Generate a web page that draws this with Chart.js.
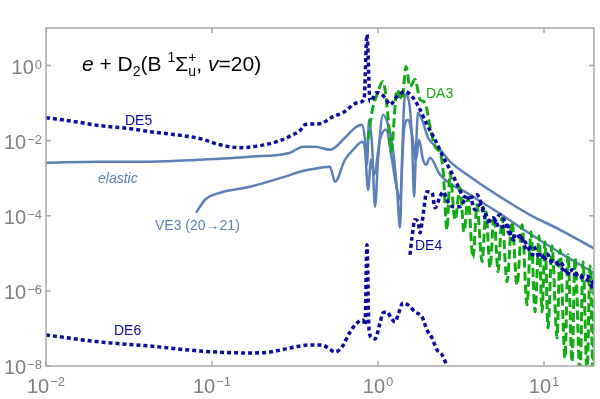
<!DOCTYPE html>
<html>
<head>
<meta charset="utf-8">
<script src="https://cdn.jsdelivr.net/npm/chart.js@4.4.1/dist/chart.umd.min.js"></script>
<style>
  body { margin: 0; background: #fff; }
  #wrap { width: 600px; height: 399px; position: relative; }
</style>
</head>
<body>
<div id="wrap"><canvas id="xsChart"></canvas></div>
<script>
// energies (eV) and cross sections
const elasticE = [0.01, 0.0211, 0.0423, 0.0847, 0.1694, 0.2951, 0.3533, 0.4174, 0.5139, 0.6326, 0.7266, 0.801, 0.835, 0.8585, 0.8827, 0.9203, 0.9592, 1.0, 1.072, 1.149, 1.231, 1.302, 1.357, 1.395, 1.455, 1.537, 1.603, 1.648, 1.694, 1.742, 1.841, 2.001, 2.205, 2.363, 2.715, 3.583, 5.43, 8.235, 12.49, 20.0];
const elasticSigma = [0.00259, 0.00275, 0.00275, 0.00311, 0.00374, 0.00479, 0.00692, 0.00692, 0.00575, 0.012, 0.0222, 0.0267, 0.01063, 0.00229, 0.0363, 0.00782, 0.000174, 0.00311, 0.0493, 0.0267, 0.00575, 0.000494, 4.79e-5, 0.00311, 0.1686, 0.1096, 0.01063, 0.000321, 0.00575, 0.0558, 0.0363, 0.012, 0.00736, 0.00575, 0.00275, 0.0011, 0.000321, 0.000106, 4.23e-5, 1.35e-5];

const ve3E = [0.0801, 0.0908, 0.1117, 0.1694, 0.2754, 0.339, 0.4174, 0.5139, 0.5508, 0.6326, 0.7266, 0.801, 0.835, 0.8706, 0.9074, 0.9461, 1.028, 1.117, 1.214, 1.284, 1.357, 1.434, 1.516, 1.603, 1.694, 1.766, 1.867, 1.946, 2.058, 2.363, 3.583, 5.43, 8.235, 12.49, 20.0];
const ve3Sigma = [0.00012, 0.000267, 0.000411, 0.000593, 0.0011, 0.00149, 0.00179, 0.00203, 0.000807, 0.00311, 0.0065, 0.0094, 0.00575, 0.000494, 0.00311, 0.00124, 0.01063, 0.0197, 0.00311, 0.000671, 0.000267, 0.0197, 0.0363, 0.01445, 0.00311, 0.01063, 0.00311, 0.00229, 0.00352, 0.00124, 0.000363, 0.000113, 3.31e-5, 1.03e-5, 3.02e-6];

const de5E = [0.01, 0.01495, 0.0211, 0.03206, 0.0423, 0.0598, 0.0847, 0.1117, 0.1475, 0.1946, 0.2568, 0.3076, 0.339, 0.3633, 0.4473, 0.5356, 0.6153, 0.7576, 0.8235, 0.858, 0.895, 0.9863, 1.102, 1.181, 1.302, 1.455, 1.625, 1.791, 1.973, 2.205, 2.464, 2.715, 2.991, 3.251, 3.583, 3.949, 4.232, 4.536, 4.929, 5.43, 5.821, 6.241, 7.169, 7.684, 8.585, 9.461, 10.43, 11.65, 12.49, 13.76, 15.81, 18.16, 20.0];
const de5Sigma = [0.041, 0.0321, 0.0251, 0.0209, 0.0174, 0.01445, 0.01131, 0.00782, 0.0065, 0.00736, 0.01, 0.01445, 0.0185, 0.0267, 0.0284, 0.0437, 0.0558, 0.1031, 0.124, 6.71, 0.1096, 0.1905, 0.14, 0.0912, 0.149, 0.2027, 0.14, 0.0671, 0.0267, 0.01063, 0.00374, 0.00169, 0.000713, 0.000341, 0.000302, 0.000363, 0.000185, 9.4e-5, 6.5e-5, 0.000106, 6.92e-5, 3.11e-5, 2.75e-5, 2.03e-5, 9.12e-6, 9.12e-6, 6.71e-6, 5.93e-6, 4.37e-6, 3.02e-6, 2.67e-6, 1.97e-6, 1.06e-6];

const de4E = [1.559, 1.603, 1.671, 1.742, 1.791, 1.841, 1.973, 2.115, 2.205, 2.363, 2.464, 2.641, 2.83, 3.119, 3.343, 3.583, 3.84, 4.116, 4.536, 4.929, 5.43, 5.985, 6.507, 7.169, 7.9, 8.585, 9.461, 10.43, 11.33, 12.49, 13.76, 14.95, 16.48, 18.16, 20.0];
const de4Sigma = [9.12e-6, 2.75e-5, 7.82e-5, 6.92e-5, 3.52e-5, 6.5e-5, 4.37e-4, 4.11e-4, 1.63e-4, 3.21e-4, 4.37e-4, 2.36e-4, 1.74e-4, 1.74e-4, 2.67e-4, 3.02e-4, 1.445e-4, 1.97e-4, 6.92e-5, 8.85e-5, 4.79e-5, 5.75e-5, 2.29e-5, 2.93e-5, 1.24e-5, 1.585e-5, 7.59e-6, 9.7e-6, 5.25e-6, 5.93e-6, 3.21e-6, 3.63e-6, 2.22e-6, 2.51e-6, 1.445e-6];

const de6E = [0.01, 0.0211, 0.0423, 0.0847, 0.1694, 0.2236, 0.2951, 0.3895, 0.46, 0.4997, 0.5508, 0.6067, 0.6781, 0.7472, 0.8121, 0.835, 0.858, 0.8827, 0.9203, 0.9592, 1.028, 1.072, 1.133, 1.198, 1.266, 1.32, 1.414, 1.516, 1.671, 1.841, 1.973, 2.115, 2.267, 2.43, 2.605];
const de6Sigma = [6.71e-8, 4.37e-8, 3.41e-8, 2.51e-8, 2.22e-8, 2.36e-8, 3.02e-8, 3.63e-8, 3.63e-8, 3.02e-8, 2.36e-8, 3.21e-8, 8.07e-8, 1.4e-7, 1.69e-7, 1.24e-7, 1.69e-5, 9.12e-8, 5.58e-8, 5.25e-8, 1.4e-7, 2.59e-7, 2.75e-7, 1.905e-7, 1.49e-7, 2.29e-7, 4.79e-7, 4.23e-7, 2.75e-7, 2.03e-7, 9.12e-8, 5.58e-8, 2.67e-8, 1.97e-8, 1.0e-8];

const da3E = [0.8706, 0.9203, 0.9863, 1.072, 1.149, 1.198, 1.302, 1.395, 1.475, 1.559, 1.671, 1.791, 1.919, 2.058, 2.205, 2.363, 2.464, 2.605, 2.715, 2.91, 3.119, 3.296, 3.485, 3.735, 3.949, 4.232, 4.473, 4.728, 4.997, 5.283, 5.585, 5.985, 6.415, 6.877, 7.37, 7.9, 8.35, 8.829, 9.331, 9.727, 10.14, 10.57, 11.17, 11.98, 12.49, 13.38, 13.95, 14.75, 15.38, 16.48, 17.18, 18.16, 18.93, 19.74, 20.0];
const da3Sigma = [0.01063, 0.0593, 0.1686, 0.3745, 0.0437, 0.00509, 0.229, 0.124, 0.94, 0.2754, 0.4233, 0.124, 0.1031, 0.0236, 0.00692, 0.00479, 0.00169, 4.23e-5, 0.0014, 7.82e-5, 0.000558, 3.74e-5, 0.000302, 7.59e-6, 1.97e-4, 5.93e-6, 1.28e-4, 4.1e-6, 1.0e-4, 3.21e-6, 8.85e-5, 1.74e-6, 6.92e-5, 1.445e-6, 5.75e-5, 4.23e-7, 3.74e-5, 2.75e-7, 2.93e-5, 2.75e-7, 2.03e-5, 1.03e-7, 1.585e-5, 5.58e-8, 1.24e-5, 1.63e-8, 9.12e-6, 1.28e-8, 7.59e-6, 6e-9, 5.93e-6, 6e-9, 4.64e-6, 6e-9, 4.1e-6];

const xTicks = [0.01, 0.1, 1, 10];
const xTickExp = ['−2', '−1', '0', '1'];
const yTicks = [1e-8, 1e-6, 1e-4, 1e-2, 1];
const yTickExp = ['−8', '−6', '−4', '−2', '0'];

const STEEL = '#5b80b6';
const NAVY = '#0b0b9e';
const GREEN = '#14aa14';
const FONT = '"Liberation Sans", Arial, sans-serif';

function pts(xs, ys) {
    return xs.map((x, i) => ({ x: x, y: ys[i] }));
}

// frame, inward ticks, tick labels and curve labels
const decorPlugin = {
    id: 'decor',
    afterDatasetsDraw(chart) {
        const ctx = chart.ctx;
        const a = chart.chartArea;
        const xs = chart.scales.x, ys = chart.scales.y;
        ctx.save();
        ctx.strokeStyle = '#a8a8a8';
        ctx.lineWidth = 1.5;
        ctx.strokeRect(a.left, a.top, a.right - a.left, a.bottom - a.top);
        ctx.beginPath();
        xTicks.forEach(v => {
            const px = xs.getPixelForValue(v);
            ctx.moveTo(px, a.bottom); ctx.lineTo(px, a.bottom - 5);
            ctx.moveTo(px, a.top); ctx.lineTo(px, a.top + 5);
        });
        yTicks.forEach(v => {
            const py = ys.getPixelForValue(v);
            ctx.moveTo(a.left, py); ctx.lineTo(a.left + 5, py);
            ctx.moveTo(a.right, py); ctx.lineTo(a.right - 5, py);
        });
        ctx.stroke();

        ctx.fillStyle = '#808080';
        ctx.textBaseline = 'alphabetic';
        // x labels
        xTicks.forEach((v, i) => {
            const px = xs.getPixelForValue(v);
            ctx.font = '20px ' + FONT;
            const w1 = ctx.measureText('10').width;
            ctx.font = '13px ' + FONT;
            const w2 = ctx.measureText(xTickExp[i]).width;
            const x0 = px - (w1 + w2 + 1) / 2;
            ctx.font = '20px ' + FONT;
            ctx.textAlign = 'left';
            ctx.fillText('10', x0, 393);
            ctx.font = '13px ' + FONT;
            ctx.fillText(xTickExp[i], x0 + w1 + 1, 386);
        });
        // y labels
        yTicks.forEach((v, i) => {
            const py = ys.getPixelForValue(v);
            ctx.font = '13px ' + FONT;
            const w2 = ctx.measureText(yTickExp[i]).width;
            ctx.textAlign = 'right';
            ctx.fillText(yTickExp[i], 42, py + 3);
            ctx.font = '20px ' + FONT;
            ctx.fillText('10', 42 - w2 - 1, py + 8);
        });

        // curve labels
        ctx.textAlign = 'left';
        ctx.font = '14px ' + FONT;
        ctx.fillStyle = NAVY;
        ctx.fillText('DE5', 125, 125);
        ctx.fillText('DE4', 415, 250);
        ctx.fillText('DE6', 114, 335);
        ctx.fillStyle = GREEN;
        ctx.fillText('DA3', 426, 98);
        ctx.fillStyle = STEEL;
        ctx.fillText('VE3 (20→21)', 155, 230);
        ctx.font = 'italic 14px ' + FONT;
        ctx.fillText('elastic', 98, 183);

        // title: e + D2(B 1Σu+, v=20)
        ctx.fillStyle = '#000';
        let x = 82;
        const base = 71;
        const piece = (t, size, dy, italic) => {
            ctx.font = (italic ? 'italic ' : '') + size + 'px ' + FONT;
            ctx.fillText(t, x, base + dy);
            return ctx.measureText(t).width;
        };
        x += piece('e', 21, 0, true);
        x += piece(' + D', 21, 0, false);
        x += piece('2', 14, 5, false);
        x += piece('(B ', 21, 0, false);
        x += piece('1', 14, -9, false);
        x += piece('Σ', 21, 0, false);
        const wp = piece('+', 14, -9, false);
        const wu = piece('u', 14, 5, false);
        x += Math.max(wp, wu);
        x += piece(', ', 21, 0, false);
        x += piece('v', 21, 0, true);
        piece('=20)', 21, 0, false);
        ctx.restore();
    }
};

const ctx = document.getElementById('xsChart').getContext('2d');
new Chart(ctx, {
    type: 'line',
    data: {
        datasets: [
            { label: 'DE5', data: pts(de5E, de5Sigma), borderColor: NAVY, borderWidth: 3.5, borderDash: [4, 3], order: 0 },
            { label: 'DE4', data: pts(de4E, de4Sigma), borderColor: NAVY, borderWidth: 3.5, borderDash: [4, 3], order: 0 },
            { label: 'DE6', data: pts(de6E, de6Sigma), borderColor: NAVY, borderWidth: 3.5, borderDash: [4, 3], order: 0 },
            { label: 'DA3', data: pts(da3E, da3Sigma), borderColor: GREEN, borderWidth: 3, borderDash: [9, 4], order: 1 },
            { label: 'elastic', data: pts(elasticE, elasticSigma), borderColor: STEEL, borderWidth: 2.5, order: 2 },
            { label: 'VE3', data: pts(ve3E, ve3Sigma), borderColor: STEEL, borderWidth: 2.5, order: 2 }
        ]
    },
    options: {
        responsive: true,
        maintainAspectRatio: false,
        animation: false,
        layout: { padding: { left: 46, right: 6, top: 28, bottom: 33 } },
        elements: {
            point: { radius: 0 },
            line: { cubicInterpolationMode: 'monotone', fill: false, borderCapStyle: 'butt' }
        },
        datasets: { line: { clip: 0 } },
        scales: {
            x: { type: 'logarithmic', min: 0.01, max: 20, display: false },
            y: { type: 'logarithmic', min: 1e-8, max: 10, display: false }
        },
        plugins: {
            legend: { display: false },
            tooltip: { enabled: false },
            title: { display: false }
        }
    },
    plugins: [decorPlugin]
});
</script>
</body>
</html>
